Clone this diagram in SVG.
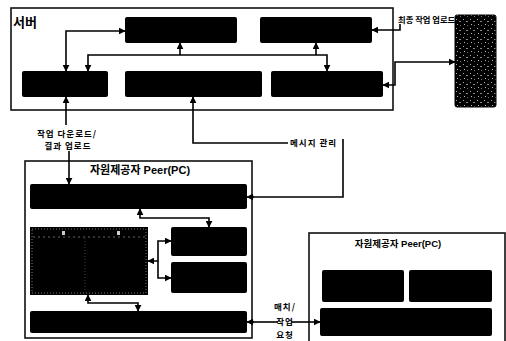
<svg xmlns="http://www.w3.org/2000/svg" width="506" height="341" viewBox="0 0 506 341">
<style>
.frame{fill:none;stroke:#111;stroke-width:1.6}
.blk{fill:#000;stroke:none}
.ln{fill:none;stroke:#000;stroke-width:1.6}
.t{font-family:"Noto Sans CJK KR","Liberation Sans",sans-serif;font-weight:bold;fill:#000}
.lab{font-size:8.5px;letter-spacing:1px}
.ttl{font-family:"Liberation Sans","Noto Sans CJK KR",sans-serif;font-weight:bold;fill:#000}
</style>
<defs>
<marker id="ah" viewBox="0 0 10 10" refX="9" refY="5" markerWidth="7" markerHeight="7" markerUnits="userSpaceOnUse" orient="auto-start-reverse">
<path d="M0,0 L10,5 L0,10 z" fill="#000"/>
</marker>
<pattern id="noise" width="7" height="9" patternUnits="userSpaceOnUse">
<rect width="7" height="9" fill="#000"/>
<rect x="1" y="1" width="1" height="1" fill="#aaa"/>
<rect x="4" y="3" width="2" height="1" fill="#888"/>
<rect x="2" y="6" width="1" height="1" fill="#bbb"/>
<rect x="5" y="7" width="1" height="1" fill="#777"/>
</pattern>
</defs>

<g id="server">
<rect class="frame" x="11" y="8" width="382" height="102"/>
<text class="t" x="13" y="27" font-size="13">서버</text>
</g>
<g id="srv-a"><rect class="blk" x="125" y="17" width="112" height="26" rx="2"/></g>
<g id="srv-b"><rect class="blk" x="260" y="17" width="112" height="26" rx="2"/></g>
<g id="srv-c"><rect class="blk" x="22" y="71" width="86" height="26" rx="2"/></g>
<g id="srv-d"><rect class="blk" x="125" y="71" width="137" height="26" rx="2"/></g>
<g id="srv-e"><rect class="blk" x="271" y="71" width="112" height="26" rx="2"/></g>

<g id="screen">
<rect x="455" y="15" width="41" height="92" rx="2" fill="url(#noise)" stroke="#000" stroke-width="1"/>
</g>

<g id="peer1">
<rect class="frame" x="25" y="161" width="227" height="177"/>
<text class="ttl" x="140" y="174" font-size="11" text-anchor="middle">자원제공자 Peer(PC)</text>
</g>
<g id="p1-top"><rect class="blk" x="30" y="184" width="217" height="25" rx="2"/></g>
<g id="p1-shot">
<rect x="30" y="227" width="118" height="68" fill="#000"/>
<rect x="32" y="229" width="114" height="64" fill="none" stroke="#777" stroke-width="1" stroke-dasharray="1 2"/>
<line x1="33" y1="237" x2="145" y2="237" stroke="#666" stroke-width="1" stroke-dasharray="2 3"/>
<line x1="85" y1="238" x2="85" y2="292" stroke="#555" stroke-width="0.8" stroke-dasharray="1 2"/>
<rect x="62" y="231" width="3" height="4" fill="#ccc"/>
<rect x="117" y="231" width="3" height="4" fill="#ccc"/>
</g>
<g id="p1-b1"><rect class="blk" x="171" y="227" width="76" height="29" rx="2"/></g>
<g id="p1-b2"><rect class="blk" x="171" y="262" width="76" height="31" rx="2"/></g>
<g id="p1-bottom"><rect class="blk" x="30" y="311" width="217" height="22" rx="2"/></g>

<g id="peer2">
<rect class="frame" x="309" y="233" width="196" height="115"/>
<text class="ttl" x="398" y="247" font-size="9.5" text-anchor="middle">자원제공자 Peer(PC)</text>
</g>
<g id="p2-b1"><rect class="blk" x="322" y="270" width="82" height="32" rx="2"/></g>
<g id="p2-b2"><rect class="blk" x="409" y="270" width="83" height="32" rx="2"/></g>
<g id="p2-bottom"><rect class="blk" x="320" y="308" width="172" height="28" rx="2"/></g>

<g id="connectors">
<path class="ln" d="M66,71 V31 H125" marker-start="url(#ah)" marker-end="url(#ah)"/>
<path class="ln" d="M88,71 V55 H316" marker-start="url(#ah)"/>
<path class="ln" d="M180,55 V43" marker-end="url(#ah)"/>
<path class="ln" d="M316,55 V43" marker-end="url(#ah)"/>
<path class="ln" d="M316,55 H327 V71" marker-end="url(#ah)"/>
<path class="ln" d="M400,24 V30 H372" marker-end="url(#ah)"/>
<path class="ln" d="M383,85 H395 V62 H455" marker-start="url(#ah)" marker-end="url(#ah)"/>
<path class="ln" d="M66,97 V125" marker-start="url(#ah)"/>
<path class="ln" d="M69,151 V184" marker-end="url(#ah)"/>
<path class="ln" d="M193,97 V143 H288" marker-start="url(#ah)"/>
<path class="ln" d="M343,139 V197 H247" marker-end="url(#ah)"/>
<path class="ln" d="M140,209 V218 H209 V227" marker-start="url(#ah)" marker-end="url(#ah)"/>
<path class="ln" d="M148,261 H158 V241 H171" marker-start="url(#ah)" marker-end="url(#ah)"/>
<path class="ln" d="M158,261 V278 H171" marker-end="url(#ah)"/>
<path class="ln" d="M88,295 V303 H138 V311" marker-start="url(#ah)" marker-end="url(#ah)"/>
<path class="ln" d="M278,322 H247" marker-end="url(#ah)"/>
<path class="ln" d="M291,322 H320" marker-end="url(#ah)"/>
<circle cx="252" cy="197" r="1.8" fill="#000"/>
<circle cx="252" cy="322" r="1.8" fill="#000"/>
</g>

<g id="labels">
<text class="t" x="398" y="23" font-size="8.3">최종 작업 업로드</text>
<text class="t lab" x="67" y="137" text-anchor="middle">작업 다운로드/</text>
<text class="t lab" x="68" y="149" text-anchor="middle">결과 업로드</text>
<text class="t lab" x="290" y="146">메시지 관리</text>
<text class="t lab" x="285" y="310" text-anchor="middle">매치/</text>
<text class="t lab" x="285" y="325" text-anchor="middle">작업</text>
<text class="t lab" x="285" y="338" text-anchor="middle">요청</text>
</g>
</svg>
